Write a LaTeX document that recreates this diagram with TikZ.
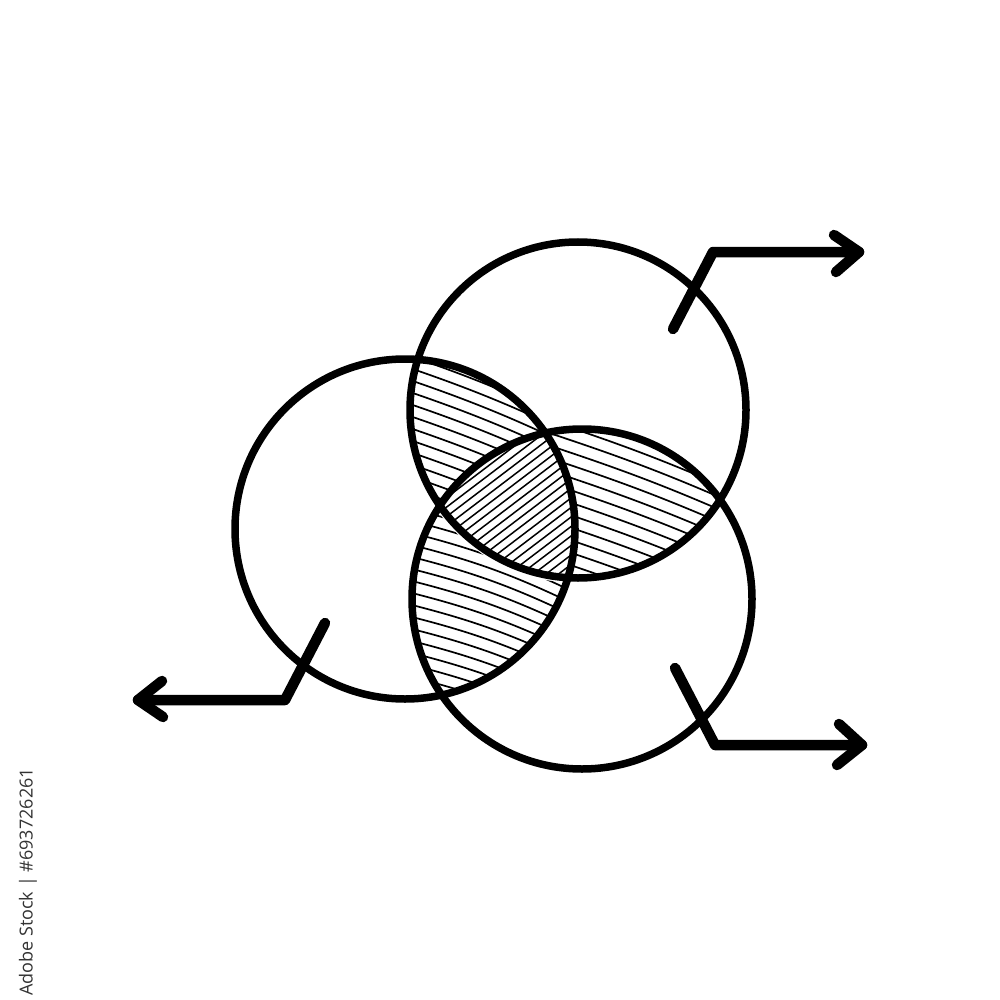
\documentclass[tikz,border=0pt]{standalone}
\usepackage{fontspec}
\newfontfamily\wmfont{Open Sans}
\begin{document}
\begin{tikzpicture}[x=1pt,y=-1pt,
  ring/.style={line width=7.5pt},
  arrowline/.style={line width=10.5pt,line cap=round,line join=round},
  hatch/.style={line width=1.7pt,line cap=round}]
\useasboundingbox (0,0) rectangle (1000,1000);
\fill[white] (0,0) rectangle (1000,1000);
% T and L minus B
\begin{scope}[even odd rule]
  \clip (578,410) circle[radius=165];
  \clip (405,529) circle[radius=167];
  \clip (0,0) rectangle (1000,1000) (582,599) circle[radius=173];
  \foreach \i in {0,...,30}{
    \draw[hatch] (380,250+\i*12) to[bend left=4] (600,340+\i*12);
  }
\end{scope}
% T and B minus L
\begin{scope}[even odd rule]
  \clip (578,410) circle[radius=165];
  \clip (582,599) circle[radius=167];
  \clip (0,0) rectangle (1000,1000) (405,529) circle[radius=173];
  \foreach \i in {0,...,30}{
    \draw[hatch] (540,330+\i*12.5) to[bend left=3] (760,415+\i*12.5);
  }
\end{scope}
% L and B minus T
\begin{scope}[even odd rule]
  \clip (405,529) circle[radius=167];
  \clip (582,599) circle[radius=167];
  \clip (0,0) rectangle (1000,1000) (578,410) circle[radius=173];
  \foreach \i in {0,...,30}{
    \draw[hatch] (400,470+\i*12) to[bend left=6] (580,535+\i*12);
  }
\end{scope}
% centre
\begin{scope}
  \clip (578,410) circle[radius=165];
  \clip (405,529) circle[radius=167];
  \clip (582,599) circle[radius=167];
  \foreach \i in {0,...,50}{
    \draw[hatch,line width=1.5pt] (400,400+\i*9.5) -- ++(300,-228);
  }
\end{scope}
% circles
\node[draw=none,inner sep=0] (top) at (578,410) {};
\node[draw=none,inner sep=0] (left) at (405,529) {};
\node[draw=none,inner sep=0] (bot) at (582,599) {};
\draw[ring] (top) circle[radius=168];
\draw[ring] (left) circle[radius=170];
\draw[ring] (bot) circle[radius=170];
% arrows
\coordinate (a1s) at (673,329);
\coordinate (a1c) at (713,252);
\coordinate (a1e) at (859,252);
\draw[arrowline] (a1s) -- (a1c) -- (a1e);
\draw[arrowline] (834,235) -- (a1e) -- (836,272);
\coordinate (a2s) at (325,623);
\coordinate (a2c) at (285,700);
\coordinate (a2e) at (138,700);
\draw[arrowline] (a2s) -- (a2c) -- (a2e);
\draw[arrowline] (162,681) -- (a2e) -- (163,717);
\coordinate (a3s) at (675,668);
\coordinate (a3c) at (715,745);
\coordinate (a3e) at (862,745);
\draw[arrowline] (a3s) -- (a3c) -- (a3e);
\draw[arrowline] (839,724) -- (a3e) -- (837,765);
% id text
\node[rotate=90,anchor=west,inner sep=0,text=black!80,font=\wmfont\fontsize{18}{21}\selectfont] (wm) at (28,996) {Adobe Stock | \#693726261};
\end{tikzpicture}
\end{document}
